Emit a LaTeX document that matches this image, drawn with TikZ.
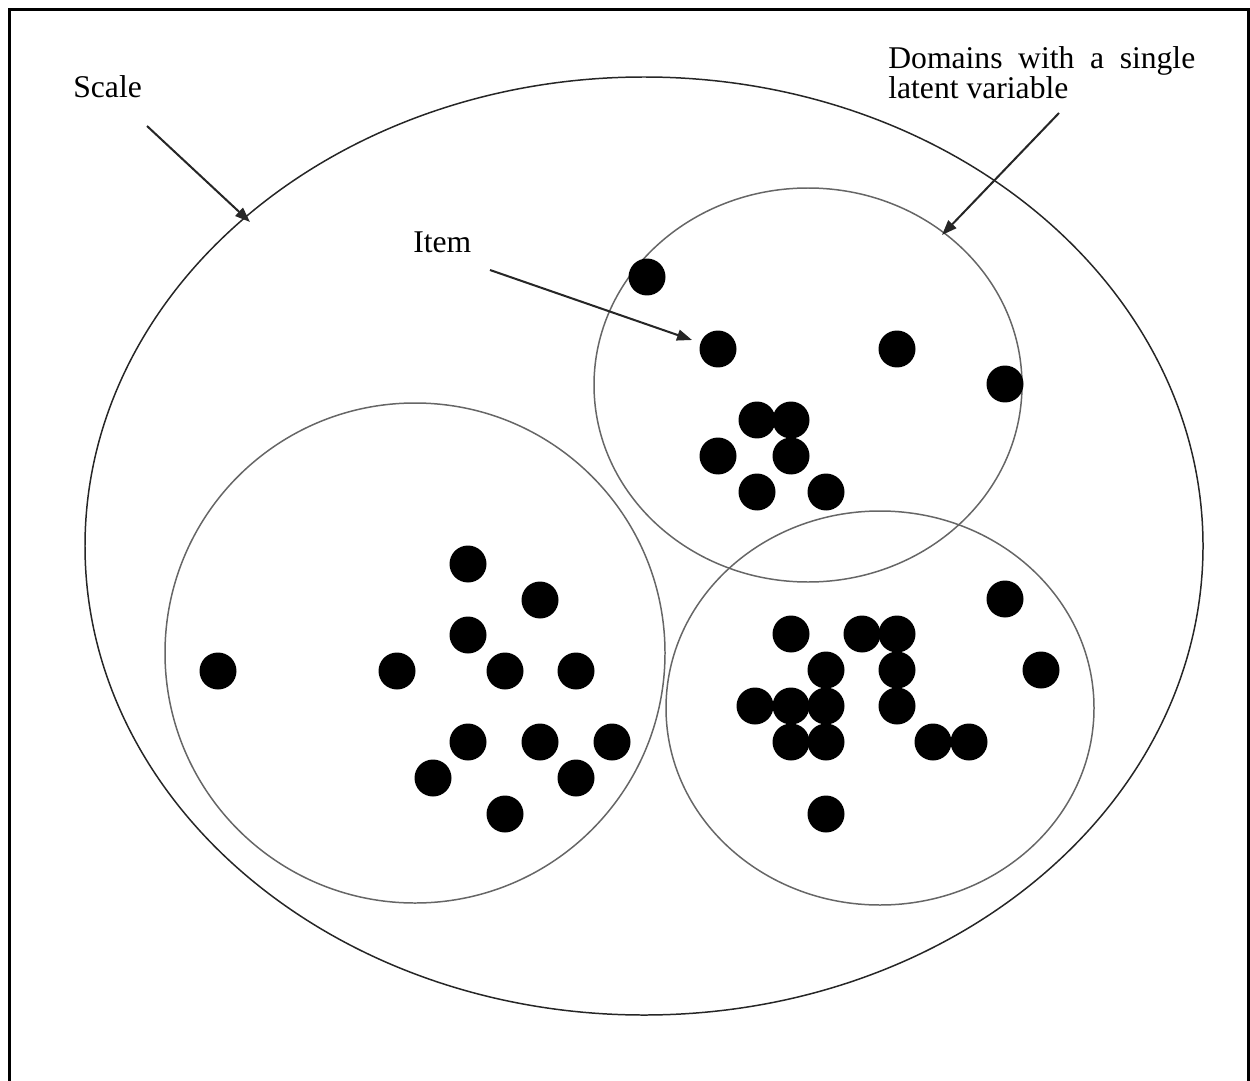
\documentclass[tikz,border=0pt]{standalone}
\usepackage{fontspec}
\setmainfont{Liberation Serif}
\usetikzlibrary{arrows.meta}

\tikzset{
  itemdot/.style={circle, fill=black, inner sep=0pt, minimum size=0.74cm},
  domcircle/.style={draw=black!60, line width=0.85pt},
  lbltext/.style={anchor=base west, inner sep=0pt, font=\fontsize{18}{17}\selectfont},
  pointer/.style={draw=black!85, line width=1.15pt, -{Triangle[length=0.3cm, width=0.22cm]}}
}

\begin{document}
\begin{tikzpicture}[x=0.02cm, y=-0.02cm]
    \useasboundingbox (0,0) rectangle (1250,1081);
    % frame, open at the bottom
    \draw[line width=1.7pt] (9.5,1090) -- (9.5,9.5) -- (1248,9.5) -- (1248,1090);

    % scale and domains
    \draw[draw=black!85, line width=0.85pt] (644,546) ellipse [x radius=559, y radius=469];
    \draw[domcircle] (415,653) circle [radius=250];
    \draw[domcircle] (808,385) ellipse [x radius=214, y radius=197];
    \draw[domcircle] (880,708) ellipse [x radius=214, y radius=197];

    % items
    \foreach \x/\y [count=\i] in {647/277, 718/349, 897/349, 1005/384, 757/420,
        791/420, 718/456, 791/456, 757/492, 826/492}
      \node[itemdot] (t\i) at (\x,\y) {};
    \foreach \x/\y [count=\i] in {468/564, 540/600, 468/635, 218/671, 397/671,
        505/671, 576/671, 468/742, 540/742, 612/742, 433/778, 576/778, 505/814}
      \node[itemdot] (l\i) at (\x,\y) {};
    \foreach \x/\y [count=\i] in {1005/599, 791/634, 862/634, 897/634, 826/670,
        897/670, 1041/670, 755/706, 791/706, 826/706, 897/706, 791/742, 826/742,
        933/742, 969/742, 826/814}
      \node[itemdot] (r\i) at (\x,\y) {};

    % labels
    \node[lbltext] (scale) at (73,98) {Scale};
    \node[lbltext] (itemlbl) at (413,253) {Item};
    \node[lbltext, anchor=north west, text width=6.14cm, align=justify] (dom) at (888,46)
      {Domains with a single latent variable};

    \coordinate (scalefrom) at (147,126);
    \coordinate (scaleto) at (250,222);
    \coordinate (itemfrom) at (490,270);
    \coordinate (itemto) at (692,340);
    \coordinate (domfrom) at (1059,113);
    \coordinate (domto) at (942,235);

    \draw[pointer] (scalefrom) -- (scaleto);
    \draw[pointer] (itemfrom) -- (itemto);
    \draw[pointer] (domfrom) -- (domto);
\end{tikzpicture}
\end{document}
